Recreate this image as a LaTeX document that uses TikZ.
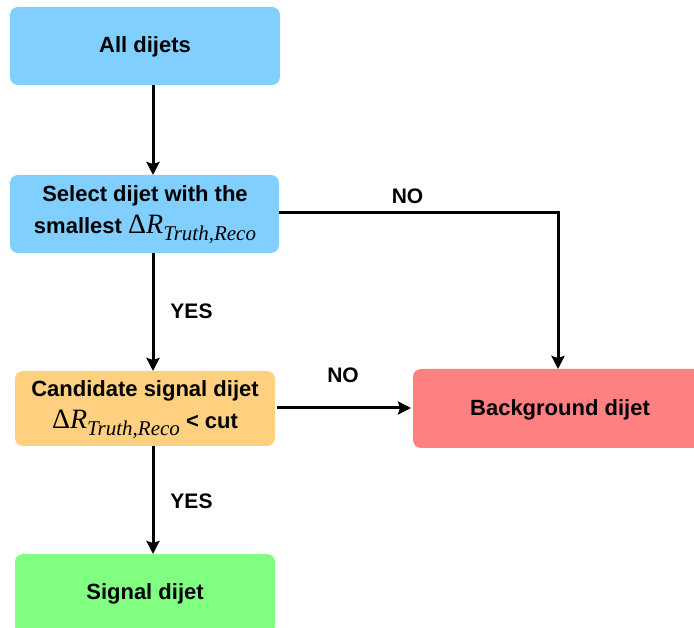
\documentclass[tikz,border=0pt]{standalone}
\usepackage{fontspec}
\setmainfont{Liberation Sans}
\newfontfamily\tms{Liberation Serif}
\usetikzlibrary{arrows.meta}
\definecolor{cblue}{HTML}{80CFFF}
\definecolor{corange}{HTML}{FFD080}
\definecolor{cred}{HTML}{FF8080}
\definecolor{cgreen}{HTML}{80FF80}
\newcommand{\dRtr}{{\tms\mdseries\fontsize{28}{28}\selectfont Δ\textit{R}\raisebox{-7pt}{\fontsize{21}{21}\selectfont\textit{Truth,Reco}}}}
\begin{document}
\begin{tikzpicture}[x=1pt,y=-1pt,
  box/.style={rounded corners=8pt, draw=none, font=\fontsize{22}{29}\selectfont\bfseries, align=center},
  conn/.style={line width=3pt, -{Stealth[length=13pt,width=13pt,inset=2pt]}},
  lbl/.style={font=\fontsize{21}{22}\selectfont\bfseries}]
\useasboundingbox (0,0) rectangle (694,628);
\begin{scope}
\clip (0,0) rectangle (694,628);
\fill[cblue, rounded corners=8pt] (10,7) rectangle (280,85);
\node (all) at (145,47) [box, minimum width=270pt, minimum height=78pt] {All dijets};
\fill[cblue, rounded corners=8pt] (10,175) rectangle (279,253);
\node (sel) at (145,215) [box, minimum width=269pt, minimum height=78pt] {Select dijet with the\\[3pt]smallest \dRtr};
\fill[corange, rounded corners=8pt] (15,371) rectangle (275,446);
\node (cand) at (145,410) [box, minimum width=260pt, minimum height=75pt] {Candidate signal dijet\\[3pt]\dRtr{} < cut};
\fill[cred, rounded corners=8pt] (413,369) rectangle (708,448);
\node (bkg) at (560,410) [box, minimum width=295pt, minimum height=79pt] {Background dijet};
\fill[cgreen, rounded corners=8pt] (15,554) rectangle (275,634);
\node (sig) at (145,594) [box, minimum width=260pt, minimum height=80pt] {Signal dijet};
\end{scope}
\coordinate (a1) at (153,85);
\coordinate (a2) at (153,175);
\draw[conn] (a1) -- (a2);
\coordinate (b1) at (153,253);
\coordinate (b2) at (153,371);
\draw[conn] (b1) -- (b2);
\coordinate (c1) at (153,446);
\coordinate (c2) at (153,554);
\draw[conn] (c1) -- (c2);
\coordinate (d1) at (279,213);
\coordinate (d2) at (558,369);
\draw[conn] (d1) -| (d2);
\coordinate (e1) at (277,408);
\coordinate (e2) at (411,408);
\draw[conn] (e1) -- (e2);
\node[lbl] (no1) at (407.5,196) {NO};
\node[lbl] (yes1) at (191.5,311) {YES};
\node[lbl] (no2) at (343,375) {NO};
\node[lbl] (yes2) at (191.5,501) {YES};
\end{tikzpicture}
\end{document}
